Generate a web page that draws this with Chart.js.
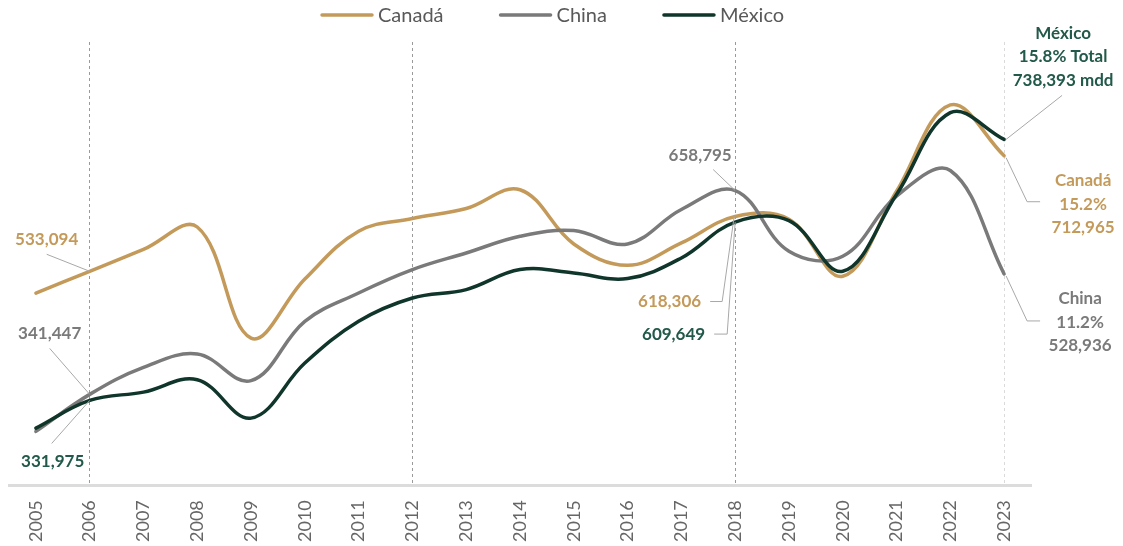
<!DOCTYPE html>
<html>
<head>
<meta charset="utf-8">
<script src="https://cdn.jsdelivr.net/npm/chart.js@4"></script>
<style>
  html, body { margin: 0; padding: 0; background: #fff; }
  #wrap { width: 1123px; height: 546px; }
</style>
</head>
<body>
<div id="wrap"><canvas id="chart" width="1123" height="546"></canvas></div>
<script>
const years = ['2005', '2006', '2007', '2008', '2009', '2010', '2011', '2012', '2013', '2014',
    '2015', '2016', '2017', '2018', '2019', '2020', '2021', '2022', '2023'];
const canada = [499000, 533094, 567000, 602000, 429000, 521000, 595400, 615200, 630800, 660000,
    575600, 542400, 577200, 618306, 614000, 525300, 657700, 792000, 712965];
const china = [283800, 341447, 383500, 404300, 362800, 455200, 499300, 535700, 561600, 587600,
    596500, 575600, 629200, 658795, 564300, 556500, 650000, 690000, 528936];
const mexico = [288900, 331975, 345000, 364300, 304500, 390200, 455200, 491500, 504600, 535700,
    530500, 521700, 553800, 609649, 612000, 533100, 652600, 780000, 738393];
const shares = ['15.2%', '11.2%', '15.8% Total'];
const markedYears = ['2006', '2012', '2018'];

const COL_CAN = '#C49A5B';
const COL_CHN = '#7A7A7A';
const COL_MEX = '#10352A';
const TXT_MEX = '#22594A';
const LEADER = '#A8A8A8';

const fmt = v => v.toLocaleString('en-US');

// leader lines + value labels
const labelsPlugin = {
    id: 'valueLabels',
    afterDatasetsDraw(chart) {
        const ctx = chart.ctx;
        const pt = (ds, i) => chart.getDatasetMeta(ds).data[i];
        const last = years.length - 1;
        const i06 = years.indexOf('2006');
        const i18 = years.indexOf('2018');

        ctx.save();
        ctx.lineWidth = 1;
        ctx.strokeStyle = LEADER;
        const line = (pts) => {
            ctx.beginPath();
            ctx.moveTo(pts[0][0], pts[0][1]);
            pts.slice(1).forEach(p => ctx.lineTo(p[0], p[1]));
            ctx.stroke();
        };
        const text = (t, x, y, color, align) => {
            ctx.fillStyle = color;
            ctx.textAlign = align || 'center';
            ctx.textBaseline = 'middle';
            ctx.fillText(t, x, y);
        };
        ctx.font = 'bold 17px Lato';

        // 2006
        let p = pt(0, i06);
        line([[p.x - 43, p.y - 17], [p.x, p.y]]);
        text(fmt(canada[i06]), p.x - 43, p.y - 32, COL_CAN);
        p = pt(1, i06);
        line([[p.x - 40, p.y - 46], [p.x, p.y]]);
        text(fmt(china[i06]), p.x - 40, p.y - 61, COL_CHN);
        p = pt(2, i06);
        line([[p.x - 38, p.y + 43], [p.x, p.y]]);
        text(fmt(mexico[i06]), p.x - 37, p.y + 61, TXT_MEX);

        // 2018
        p = pt(1, i18);
        line([[p.x - 22, p.y - 21], [p.x, p.y]]);
        text(fmt(china[i18]), p.x - 35, p.y - 35, COL_CHN);
        p = pt(0, i18);
        line([[p.x - 25, p.y + 85], [p.x - 13, p.y + 85], [p.x - 1, p.y]]);
        text(fmt(canada[i18]), p.x - 34, p.y + 85, COL_CAN, 'right');
        p = pt(2, i18);
        line([[p.x - 21, p.y + 112], [p.x - 8, p.y + 112], [p.x, p.y]]);
        text(fmt(mexico[i18]), p.x - 30, p.y + 112, TXT_MEX, 'right');

        // 2023
        p = pt(2, last);
        line([[p.x + 58, p.y - 44], [p.x + 2, p.y]]);
        ['México', shares[2], fmt(mexico[last]) + ' mdd'].forEach((t, k) =>
            text(t, p.x + 59, p.y - 106 + k * 23.5, TXT_MEX));
        p = pt(0, last);
        line([[p.x + 2, p.y + 2], [p.x + 23, p.y + 46], [p.x + 36, p.y + 46]]);
        ['Canadá', shares[0], fmt(canada[last])].forEach((t, k) =>
            text(t, p.x + 79, p.y + 25 + k * 23.5, COL_CAN));
        p = pt(1, last);
        line([[p.x + 2, p.y + 2], [p.x + 23, p.y + 47], [p.x + 36, p.y + 47]]);
        ['China', shares[1], fmt(china[last])].forEach((t, k) =>
            text(t, p.x + 76, p.y + 25 + k * 23.5, COL_CHN));
        ctx.restore();
    }
};

// legend drawn by hand so the spacing matches
const legendPlugin = {
    id: 'topLegend',
    afterDraw(chart) {
        const ctx = chart.ctx;
        ctx.save();
        ctx.font = '20px Lato';
        ctx.textBaseline = 'middle';
        ctx.textAlign = 'left';
        let x = 320;
        const y = 15;
        chart.data.datasets.forEach(ds => {
            ctx.strokeStyle = ds.borderColor;
            ctx.lineWidth = 3.5;
            ctx.lineCap = 'round';
            ctx.beginPath();
            ctx.moveTo(x + 2, y);
            ctx.lineTo(x + 52, y);
            ctx.stroke();
            ctx.fillStyle = '#595959';
            ctx.fillText(ds.label, x + 58, y + 1);
            x += 58 + ctx.measureText(ds.label).width + 55;
        });
        ctx.restore();
    }
};

const gridColor = (c) => {
    const lbl = years[c.index];
    if (markedYears.includes(lbl)) return '#9A9A9A';
    if (c.index === years.length - 1) return '#DADADA';
    return 'rgba(0,0,0,0)';
};

new Chart(document.getElementById('chart'), {
    type: 'line',
    data: {
        labels: years,
        datasets: [
            { label: 'Canadá', data: canada, borderColor: COL_CAN, backgroundColor: COL_CAN, order: 3 },
            { label: 'China', data: china, borderColor: COL_CHN, backgroundColor: COL_CHN, order: 2 },
            { label: 'México', data: mexico, borderColor: COL_MEX, backgroundColor: COL_MEX, order: 1 }
        ]
    },
    options: {
        responsive: false,
        animation: false,
        layout: { padding: { left: 9, right: 92, top: 42, bottom: -11 } },
        elements: {
            line: { borderWidth: 3.5, tension: 0.38, borderCapStyle: 'round', borderJoinStyle: 'round' },
            point: { radius: 0, hoverRadius: 0 }
        },
        scales: {
            x: {
                offset: true,
                grid: {
                    color: gridColor,
                    lineWidth: 1,
                    drawTicks: false
                },
                border: { display: true, color: '#DCDCDC', width: 3, dash: [3, 3] },
                ticks: {
                    color: '#666666',
                    font: { family: 'Lato', size: 18 },
                    padding: 15,
                    minRotation: 90,
                    maxRotation: 90,
                    autoSkip: false
                }
            },
            y: {
                display: false,
                min: 200000,
                max: 890000
            }
        },
        plugins: {
            legend: { display: false },
            tooltip: { enabled: false }
        }
    },
    plugins: [labelsPlugin, legendPlugin]
});
</script>
</body>
</html>
